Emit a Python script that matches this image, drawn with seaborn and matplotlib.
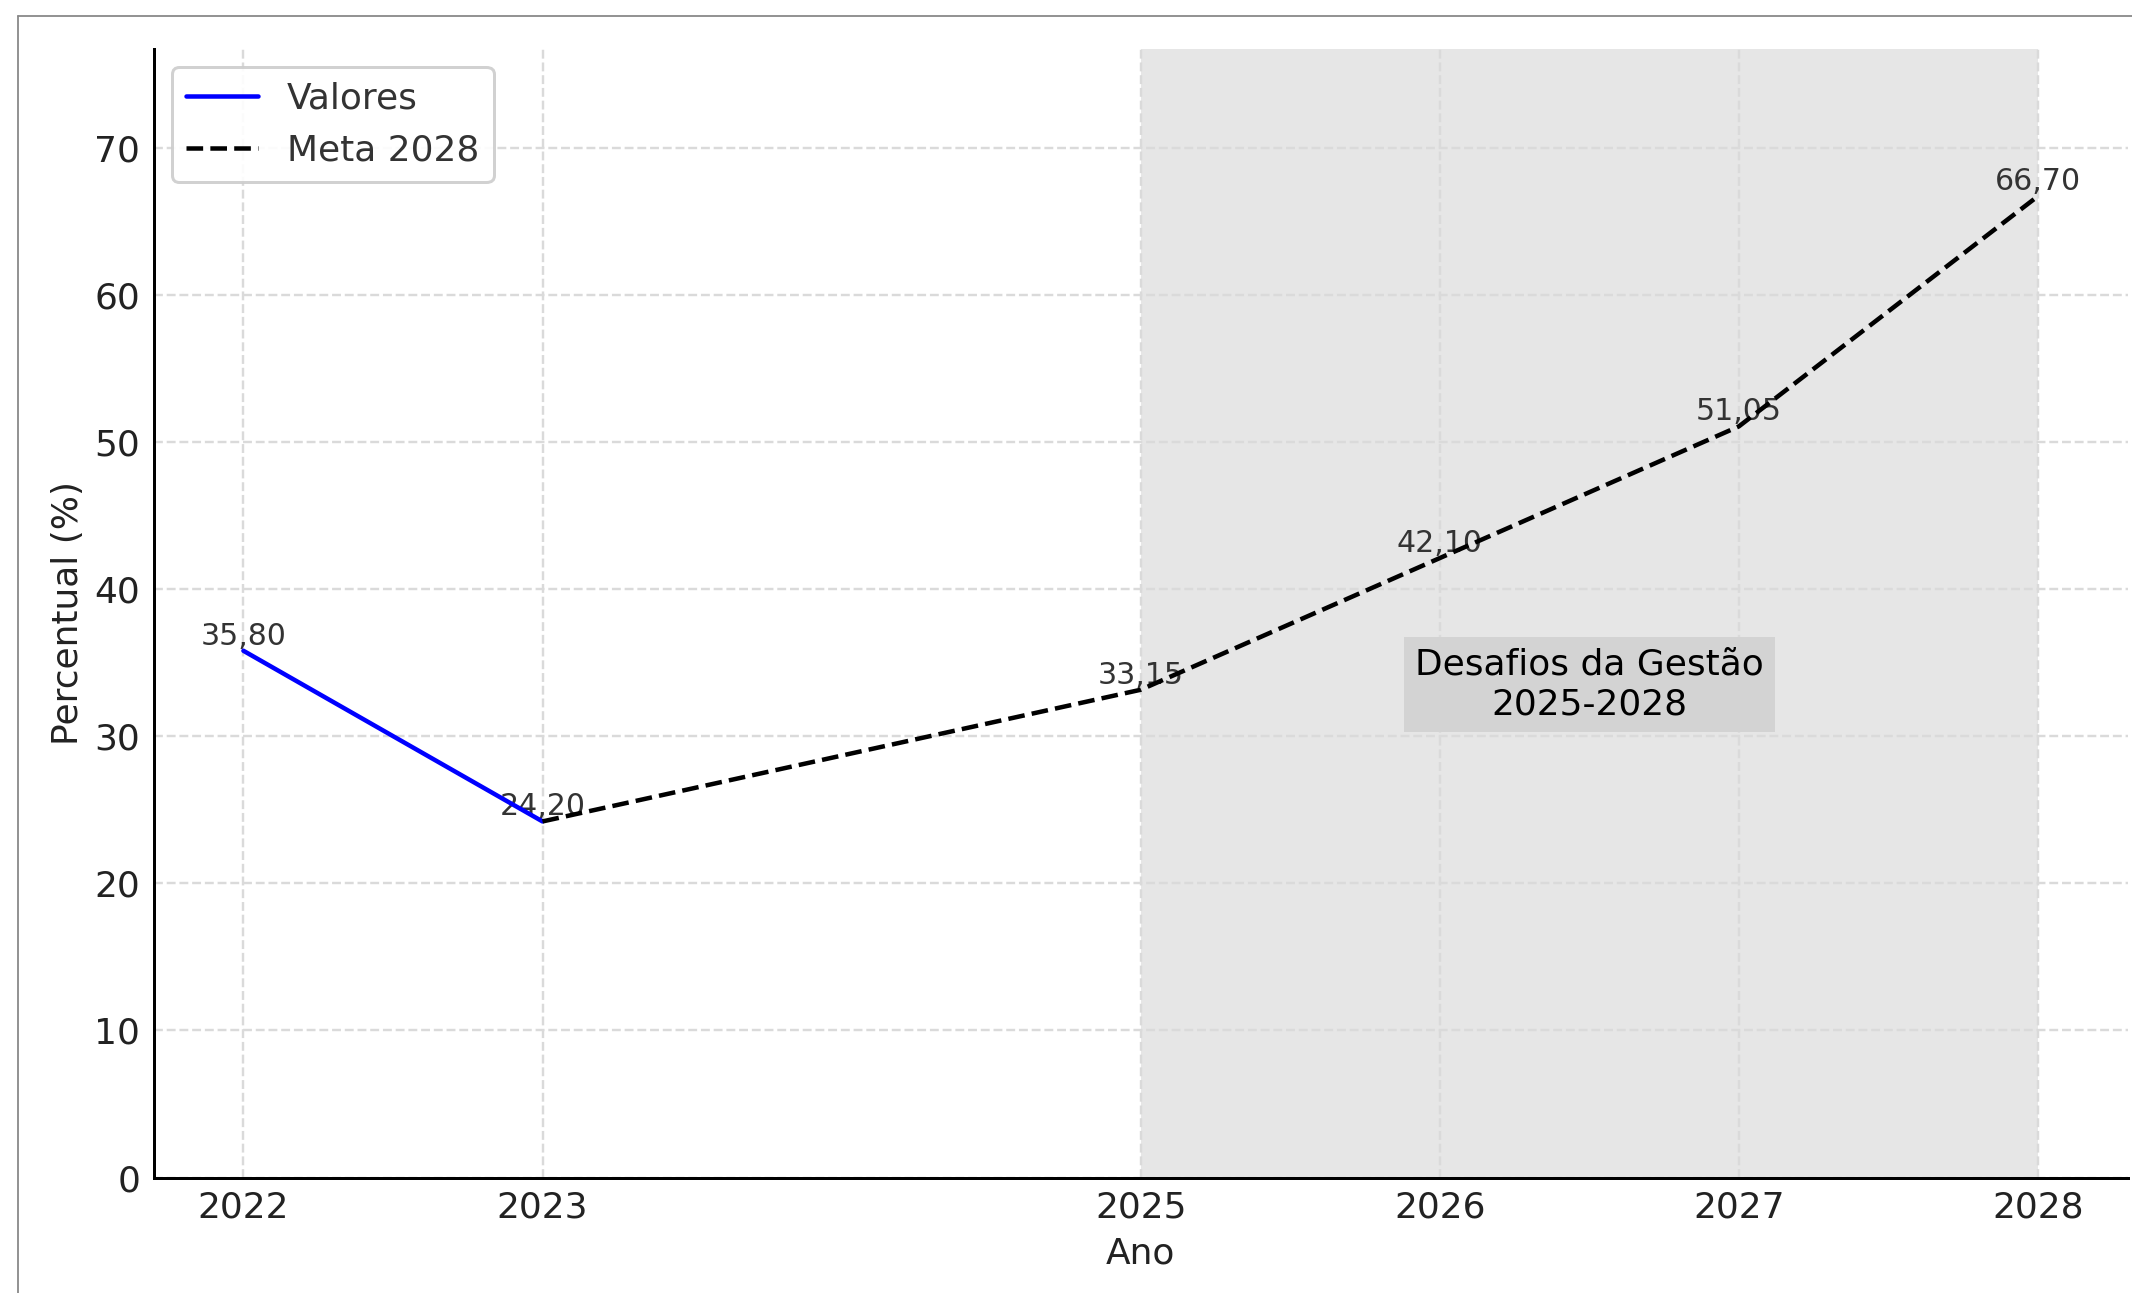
import matplotlib
matplotlib.use("Agg")
import matplotlib.pyplot as plt
from matplotlib.lines import Line2D
import numpy as np
import pandas as pd
import seaborn as sns

# ---- data ----
anos_valores = [2022, 2023]
valores = [35.80, 24.20]
anos_meta = [2023, 2025, 2026, 2027, 2028]
meta = [24.20, 33.15, 42.10, 51.05, 66.70]
xticks = [2022, 2023, 2025, 2026, 2027, 2028]
yticks = [0, 10, 20, 30, 40, 50, 60, 70]
serie_labels = ["Valores", "Meta 2028"]
destaque_inicio, destaque_fim = 2025, 2028
destaque_texto = "Desafios da Gestão\n2025-2028"

sns.set_style("whitegrid")
plt.rcParams["font.family"] = ["DejaVu Sans"]

DPI = 216
W, H = 2132, 1293
fig = plt.figure(figsize=(W / DPI, H / DPI), dpi=DPI)
ax = fig.add_axes([153.7 / W, 115.5 / H, 1974 / W, 1128.5 / H])

df_v = pd.DataFrame({"Ano": anos_valores, "Percentual": valores})
df_m = pd.DataFrame({"Ano": anos_meta, "Percentual": meta})

ax.axvspan(destaque_inicio, destaque_fim, color="lightgray", alpha=0.55, lw=0, zorder=0.3)

sns.lineplot(data=df_v, x="Ano", y="Percentual", color="blue", lw=1.5,
             label=serie_labels[0], ax=ax, zorder=2)
sns.lineplot(data=df_m, x="Ano", y="Percentual", color="black", lw=1.5,
             linestyle="--", label=serie_labels[1], ax=ax, zorder=2)

# point labels
pontos = {}
for x, y in zip(anos_valores + anos_meta, valores + meta):
    pontos[x] = y
for x, y in pontos.items():
    ax.text(x, y, f"{y:.2f}".replace(".", ","), ha="center", va="bottom",
            fontsize=10, color="#333333", zorder=1.5)

ax.text((destaque_inicio + destaque_fim) / 2, 33.5, destaque_texto,
        ha="center", va="center", fontsize=12, color="black", zorder=3,
        bbox=dict(facecolor="lightgray", edgecolor="none", boxstyle="square,pad=0.3"))

ax.set_xlim(2021.7, 2028.3)
ax.set_ylim(0, 76.7)
ax.set_xticks(xticks)
ax.set_yticks(yticks)
ax.set_xticklabels([str(t) for t in xticks])

ax.grid(True, linestyle="--", color="#dadada", linewidth=0.8)
ax.set_axisbelow(True)

for s in ["top", "right"]:
    ax.spines[s].set_visible(False)
for s in ["left", "bottom"]:
    ax.spines[s].set_visible(True)
    ax.spines[s].set_color("black")
    ax.spines[s].set_linewidth(1.0)

ax.tick_params(axis="both", direction="in", length=3.5, width=0.9, color="black",
               labelsize=12, labelcolor="#222222", pad=4.5)

ax.set_xlabel("Ano", fontsize=12, color="#222222")
ax.set_ylabel("Percentual (%)", fontsize=12, color="#222222", labelpad=3.2)

leg = ax.legend(loc="upper left", fontsize=12, frameon=True, fancybox=True,
                edgecolor="#cccccc", framealpha=0.9)
for t in leg.get_texts():
    t.set_color("#333333")

# figure border (partial frame of the screenshot)
bx = 17.5 / W
by = 1 - 16 / H
fig.add_artist(Line2D([bx, bx], [0, by], transform=fig.transFigure, color="#888888", lw=0.6))
fig.add_artist(Line2D([bx, 1], [by, by], transform=fig.transFigure, color="#888888", lw=0.6))

fig.savefig("out.png", dpi=DPI)
